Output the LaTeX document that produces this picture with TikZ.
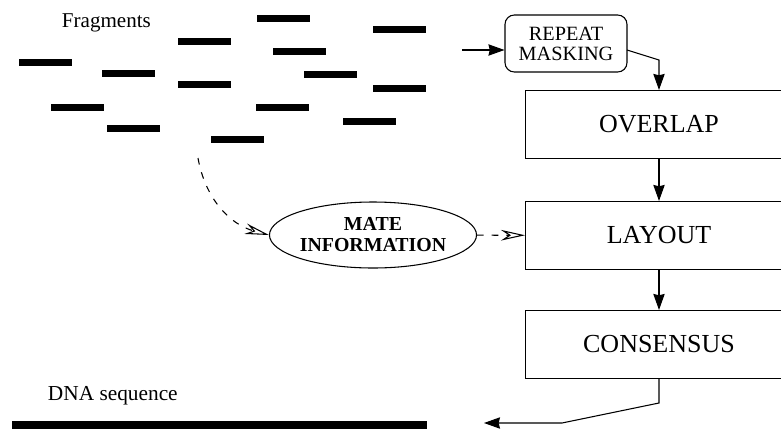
\documentclass[tikz,border=0pt]{standalone}
\usepackage{fontspec}
\setmainfont{Liberation Serif}
\usetikzlibrary{arrows.meta,shapes.geometric}

\begin{document}
\begin{tikzpicture}[x=0.75pt, y=0.75pt, line width=0.8pt,
    etapa/.style={draw, rectangle, minimum width=200.25pt, minimum height=51pt,
      font=\fontsize{19.5}{22}\selectfont},
    mascara/.style={draw, rectangle, rounded corners=7pt, minimum width=91.5pt,
      minimum height=42.75pt, inner sep=0pt, align=center,
      font=\fontsize{15.2}{15}\selectfont},
    info/.style={draw, ellipse, minimum width=147.75pt, minimum height=49.5pt,
      inner sep=0pt, align=center, font=\fontsize{14.9}{15.75}\selectfont\bfseries},
    rotulo/.style={anchor=base west, font=\fontsize{15.8}{18}\selectfont},
    seta/.style={-{Stealth[length=12pt, width=8.5pt, inset=1pt]}},
    setaaberta/.style={dash pattern=on 5pt off 6pt,
      -{Stealth[open, length=18pt, width=8pt, inset=6pt]}}]

  % Área da figura
  \useasboundingbox (0,0) rectangle (781,430);
  \clip (0,0) rectangle (781,430);

  % Fragmentos (barras pretas)
  \foreach \bx/\by in {283.5/411.5, 204.5/388.5, 299.5/378.5, 45.5/367.5,
      128.5/356.5, 330.5/355.5, 204.5/345.5, 77.5/322.5, 282.5/322.5,
      133.5/301.5, 237.5/290.5, 369.5/308.5, 399.5/400.5, 399.5/341.5} {
    \fill ({\bx-26.5},{\by-3.5}) rectangle ++(53,7);
  }
  \node[rotulo] (frag) at (57,403) {Fragments};

  % Sequência de DNA
  \node[rotulo, font=\fontsize{16}{18}\selectfont] (dna) at (43,30) {DNA sequence};
  \fill (12,1) rectangle (427,9);

  % Etapas do montador
  \node[mascara] (repeat) at (566,386.5) {REPEAT\\MASKING};
  \node[etapa] (overlap) at (659,305.5) {OVERLAP};
  \node[etapa] (layout) at (659,194.5) {LAYOUT};
  \node[etapa] (consensus) at (659,85.5) {CONSENSUS};
  \node[info] (mate) at (373,195) {MATE\\INFORMATION};

  % Pontos auxiliares das setas
  \coordinate (entrada) at (462,380);
  \coordinate (saida) at (627,380);
  \coordinate (dobra1) at (659,370);
  \coordinate (inicio) at (198,272);
  \coordinate (dobra2) at (659,27);
  \coordinate (dobra3) at (562,7);
  \coordinate (fim) at (484,7);

  % Setas cheias
  \draw[seta] (entrada) -- (entrada -| repeat.west);
  \draw[seta] (saida) -- (dobra1) -- (overlap.north);
  \draw[seta] (overlap) -- (layout);
  \draw[seta] (layout) -- (consensus);
  \draw[seta] (consensus.south) -- (dobra2) -- (dobra3) -- (fim);

  % Setas tracejadas (informação de pares)
  \draw[setaaberta] (inicio) to[out=-80, in=165] (mate.west);
  \draw[setaaberta] (mate) -- (layout);
\end{tikzpicture}
\end{document}
